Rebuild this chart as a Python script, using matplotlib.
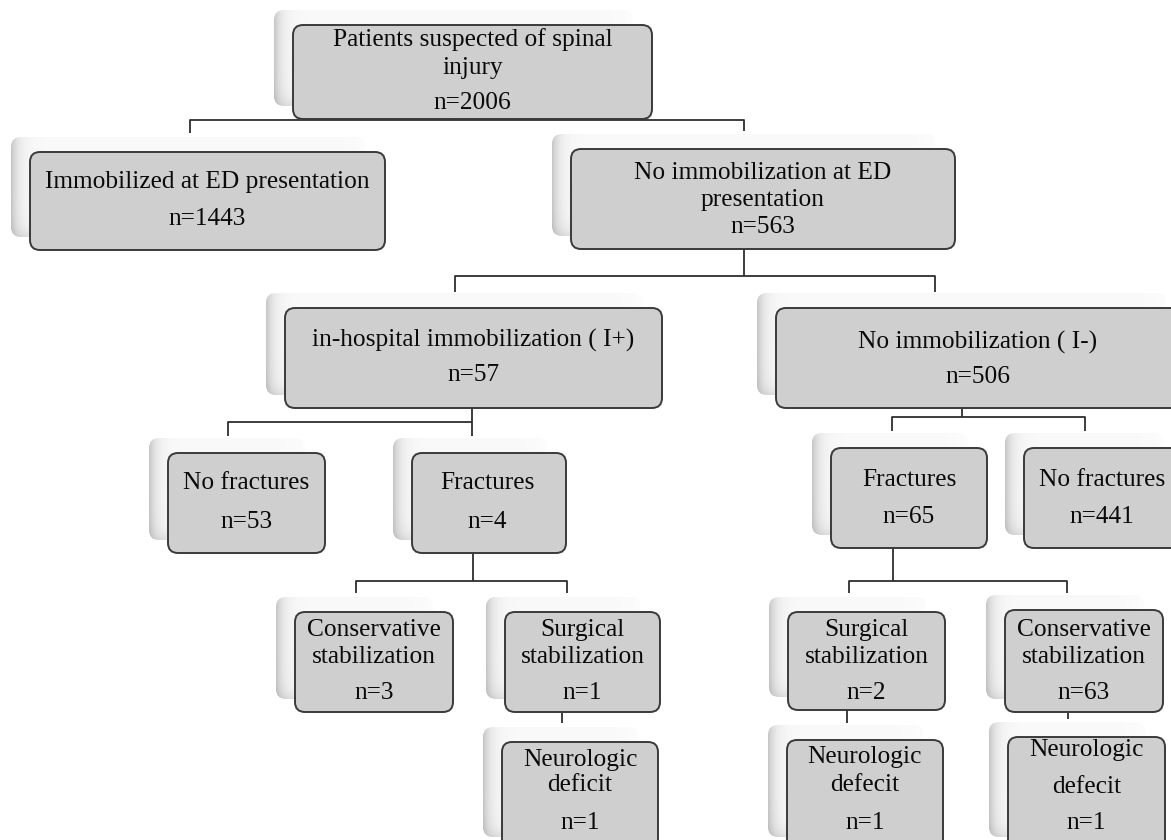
import numpy as np
import matplotlib.pyplot as plt
from matplotlib.patches import FancyBboxPatch

# node texts (title lines) and counts
node_ids = ['all', 'immob', 'noimmob', 'iplus', 'iminus', 'nofx_a', 'fx_a',
            'fx_b', 'nofx_b', 'cons_a', 'surg_a', 'neuro_a', 'surg_b',
            'cons_b', 'neuro_b', 'neuro_c']
node_titles = [
    ['Patients suspected of spinal', 'injury'],
    ['Immobilized at ED presentation'],
    ['No immobilization at ED', 'presentation'],
    ['in-hospital immobilization ( I+)'],
    ['No immobilization ( I-)'],
    ['No fractures'],
    ['Fractures'],
    ['Fractures'],
    ['No fractures'],
    ['Conservative', 'stabilization'],
    ['Surgical', 'stabilization'],
    ['Neurologic', 'deficit'],
    ['Surgical', 'stabilization'],
    ['Conservative', 'stabilization'],
    ['Neurologic', 'defecit'],
    ['Neurologic', 'defecit'],
]
node_counts = [2006, 1443, 563, 57, 506, 53, 4, 65, 441, 3, 1, 1, 2, 63, 1, 1]

# layout in pixels: box (x0, y0, x1, y1) and y of each text line
box = {
    'all':     (293, 25, 652, 119),
    'immob':   (30, 152, 385, 250),
    'noimmob': (571, 149, 955, 249),
    'iplus':   (285, 308, 662, 408),
    'iminus':  (776, 308, 1185, 408),
    'nofx_a':  (168, 453, 325, 553),
    'fx_a':    (412, 453, 566, 553),
    'fx_b':    (831, 448, 987, 548),
    'nofx_b':  (1024, 448, 1183, 548),
    'cons_a':  (295, 612, 453, 712),
    'surg_a':  (505, 612, 660, 712),
    'neuro_a': (502, 742, 658, 850),
    'surg_b':  (788, 612, 945, 710),
    'cons_b':  (1005, 610, 1163, 712),
    'neuro_b': (787, 740, 943, 850),
    'neuro_c': (1008, 737, 1165, 850),
}
text_y = {
    'all': [40, 68, 103], 'immob': [182, 219], 'noimmob': [173, 200, 227],
    'iplus': [340, 375], 'iminus': [342, 377],
    'nofx_a': [483, 522], 'fx_a': [483, 522], 'fx_b': [480, 517], 'nofx_b': [480, 517],
    'cons_a': [630, 657, 693], 'surg_a': [630, 657, 693], 'neuro_a': [760, 785, 823],
    'surg_b': [630, 657, 693], 'cons_b': [630, 657, 693],
    'neuro_b': [757, 785, 823], 'neuro_c': [750, 787, 823],
}
text_x = {'iminus': 978, 'nofx_b': 1102, 'fx_a': 487}

connectors = [
    [(455, 100), (455, 120)],
    [(190, 133), (190, 120), (744, 120), (744, 131)],
    [(744, 240), (744, 276)],
    [(455, 292), (455, 276), (935, 276), (935, 292)],
    [(472, 395), (472, 436)],
    [(228, 436), (228, 422), (472, 422)],
    [(962, 395), (962, 417)],
    [(892, 431), (892, 417), (1085, 417), (1085, 431)],
    [(473, 540), (473, 581)],
    [(356, 593), (356, 581), (567, 581), (567, 593)],
    [(893, 535), (893, 581)],
    [(849, 593), (849, 581), (1067, 581), (1067, 593)],
    [(562, 700), (562, 723)],
    [(847, 700), (847, 723)],
    [(1068, 700), (1068, 719)],
]

W, H = 1171, 840
fig = plt.figure(figsize=(W / 100, H / 100), dpi=100)
ax = fig.add_axes([0, 0, 1, 1])
ax.set_xlim(0, W)
ax.set_ylim(H, 0)
ax.axis('off')

for pts in connectors:
    xs, ys = zip(*pts)
    ax.plot(xs, ys, color='#2e2e2e', lw=1.3, zorder=1, solid_capstyle='butt')

# shaded "shadow" card behind each box
def shadow(x0, y0, x1, y1):
    sx0, sy0, sx1, sy1 = x0 - 19, y0 - 15, x1 - 19, y1 - 13
    w, h = sx1 - sx0, sy1 - sy0
    patch = FancyBboxPatch((sx0, sy0), w, h, boxstyle='round,pad=0,rounding_size=10',
                           facecolor='none', edgecolor='none', zorder=2)
    ax.add_patch(patch)
    gx = np.arange(int(w))[None, :]
    gy = np.arange(int(h))[:, None]
    val = (0.975 - 0.20 * np.exp(-gx / 7.0) - 0.10 * np.exp(-(h - gy) / 8.0)
           + 0.015 * np.exp(-(w - gx) / 10.0))
    val = np.clip(val, 0, 1)
    im = ax.imshow(val, cmap='gray', vmin=0, vmax=1, extent=(sx0, sx1, sy1, sy0),
                   zorder=2, interpolation='bilinear', aspect='auto')
    im.set_clip_path(patch)

for nid, title, n in zip(node_ids, node_titles, node_counts):
    x0, y0, x1, y1 = box[nid]
    shadow(x0, y0, x1, y1)
    ax.add_patch(FancyBboxPatch((x0, y0), x1 - x0, y1 - y0,
                                boxstyle='round,pad=0,rounding_size=10',
                                facecolor='#cfcfcf', edgecolor='#3a3a3a', lw=1.4, zorder=3))
    cx = text_x.get(nid, (x0 + x1) / 2)
    for line, ty in zip(title + ['n=%d' % n], text_y[nid]):
        ax.text(cx, ty, line, ha='center', va='center', fontsize=18.3,
                family='Liberation Serif', color='#0a0a0a', zorder=4)

ax.set_xlim(0, W)
ax.set_ylim(H, 0)
plt.savefig('out.png', dpi=100)
